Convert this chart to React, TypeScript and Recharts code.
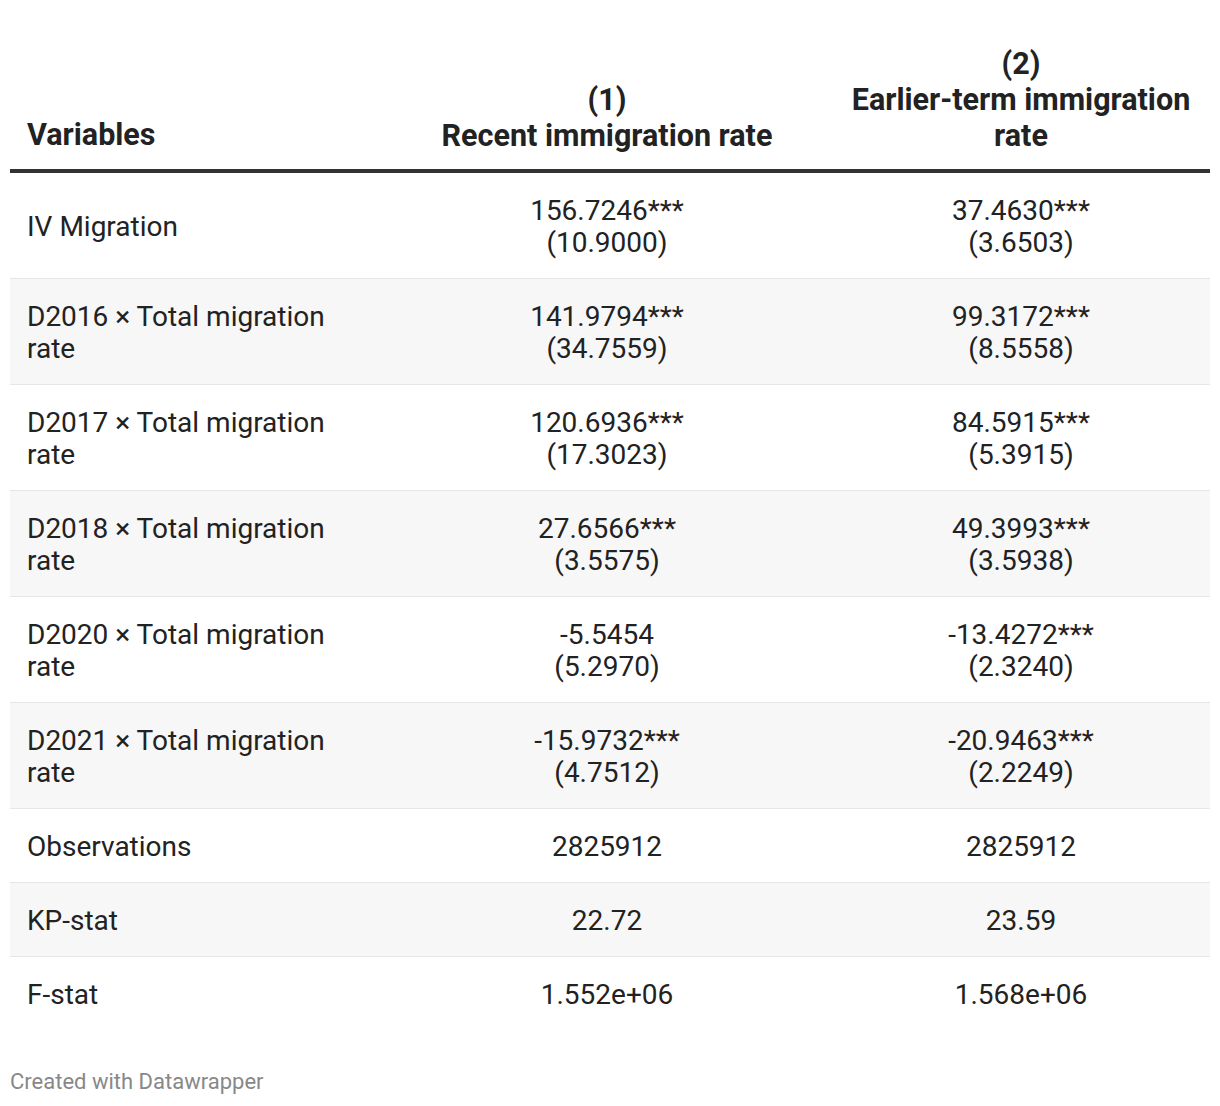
import { BarChart, Bar, XAxis, YAxis } from "recharts"

// regression table rows
const coefVariables = [
  "IV Migration",
  "D2016 × Total migration rate",
  "D2017 × Total migration rate",
  "D2018 × Total migration rate",
  "D2020 × Total migration rate",
  "D2021 × Total migration rate",
]
const recentCoef = [156.7246, 141.9794, 120.6936, 27.6566, -5.5454, -15.9732]
const recentStars = ["***", "***", "***", "***", "", "***"]
const recentSe = [10.9, 34.7559, 17.3023, 3.5575, 5.297, 4.7512]
const earlierCoef = [37.463, 99.3172, 84.5915, 49.3993, -13.4272, -20.9463]
const earlierStars = ["***", "***", "***", "***", "***", "***"]
const earlierSe = [3.6503, 8.5558, 5.3915, 3.5938, 2.324, 2.2249]

const statVariables = ["Observations", "KP-stat", "F-stat"]
const recentStats = ["2825912", "22.72", "1.552e+06"]
const earlierStats = ["2825912", "23.59", "1.568e+06"]

const FONT = "Roboto, sans-serif"
const TEXT = "#222"
const COL1_X = 597
const COL2_X = 1011
const LABEL_X = 17
const LINE = 32
const BODY_SIZE = 28

const coefRows = coefVariables.map((variable, i) => ({
  variable,
  col1: [`${recentCoef[i].toFixed(4)}${recentStars[i]}`, `(${recentSe[i].toFixed(4)})`],
  col2: [`${earlierCoef[i].toFixed(4)}${earlierStars[i]}`, `(${earlierSe[i].toFixed(4)})`],
}))

const statRows = statVariables.map((variable, i) => ({
  variable,
  col1: [recentStats[i]],
  col2: [earlierStats[i]],
}))

function wrap(label: string, maxChars = 24) {
  const words = label.split(" ")
  const lines: string[] = []
  let cur = ""
  words.forEach((w) => {
    const next = cur ? cur + " " + w : w
    if (next.length > maxChars && cur) {
      lines.push(cur)
      cur = w
    } else cur = next
  })
  if (cur) lines.push(cur)
  return lines
}

function lineYs(center: number, n: number) {
  return Array.from({ length: n }, (_, k) => center + (k - (n - 1) / 2) * LINE)
}

function makeRowShape(offset: number, lastRow: number) {
  return (props: any) => {
    const { x, y, width, height, index, payload } = props
    const cy = y + height / 2
    const striped = (index + offset) % 2 === 1
    const labelLines = wrap(payload.variable)
    return (
      <g>
        <rect x={x} y={y} width={width} height={height} fill={striped ? "#f7f7f7" : "#fff"} />
        {index !== lastRow && (
          <rect x={x} y={y + height - 1} width={width} height={2} fill="#e6e6e6" />
        )}
        {lineYs(cy, labelLines.length).map((ly, k) => (
          <text key={"l" + k} x={x + LABEL_X} y={ly} dy="0.35em" fontSize={BODY_SIZE} fill={TEXT} fontFamily={FONT}>
            {labelLines[k]}
          </text>
        ))}
        {lineYs(cy, payload.col1.length).map((ly, k) => (
          <text key={"a" + k} x={x + COL1_X} y={ly} dy="0.35em" textAnchor="middle" fontSize={BODY_SIZE} fill={TEXT} fontFamily={FONT}>
            {payload.col1[k]}
          </text>
        ))}
        {lineYs(cy, payload.col2.length).map((ly, k) => (
          <text key={"b" + k} x={x + COL2_X} y={ly} dy="0.35em" textAnchor="middle" fontSize={BODY_SIZE} fill={TEXT} fontFamily={FONT}>
            {payload.col2[k]}
          </text>
        ))}
      </g>
    )
  }
}

function TableBlock({ rows, rowHeight, offset, lastRow }: { rows: any[]; rowHeight: number; offset: number; lastRow: number }) {
  return (
    <BarChart
      width={1200}
      height={rows.length * rowHeight}
      data={rows}
      layout="vertical"
      margin={{ top: 0, right: 0, bottom: 0, left: 0 }}
      barCategoryGap={0}
    >
      <XAxis type="number" domain={[0, 1]} hide />
      <YAxis type="category" dataKey="variable" hide />
      <Bar dataKey={() => 1} shape={makeRowShape(offset, lastRow)} isAnimationActive={false} />
    </BarChart>
  )
}

const headStyle = {
  position: "absolute" as const,
  fontFamily: FONT,
  fontWeight: 700,
  fontSize: 30.5,
  color: TEXT,
  lineHeight: "36px",
  whiteSpace: "nowrap" as const,
}

export default function App() {
  return (
    <div style={{ position: "absolute", left: 0, top: 0, width: 1220, height: 1106, background: "#fff", fontFamily: FONT }}>
      <div style={{ ...headStyle, left: 27, top: 117 }}>Variables</div>
      <div style={{ ...headStyle, left: 407, width: 400, top: 82, textAlign: "center" }}>
        (1)
        <br />
        Recent immigration rate
      </div>
      <div style={{ ...headStyle, left: 821, width: 400, top: 46, textAlign: "center" }}>
        (2)
        <br />
        Earlier-term immigration
        <br />
        rate
      </div>
      <div style={{ position: "absolute", left: 10, top: 169, width: 1200, height: 4, background: "#333" }} />
      <div style={{ position: "absolute", left: 10, top: 173 }}>
        <TableBlock rows={coefRows} rowHeight={106} offset={0} lastRow={-1} />
      </div>
      <div style={{ position: "absolute", left: 10, top: 809 }}>
        <TableBlock rows={statRows} rowHeight={74} offset={0} lastRow={2} />
      </div>
      <div style={{ position: "absolute", left: 10, top: 1069, fontSize: 22, color: "#888", fontFamily: FONT }}>
        Created with Datawrapper
      </div>
    </div>
  )
}
